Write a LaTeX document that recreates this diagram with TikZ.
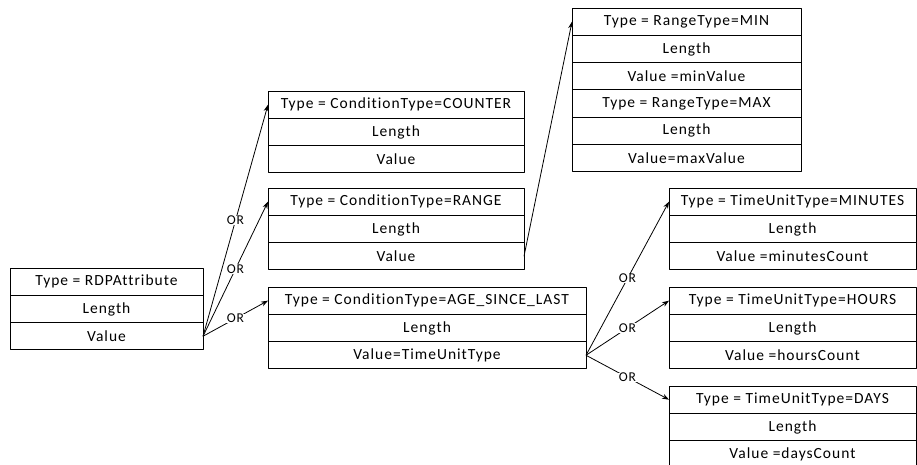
\documentclass[tikz,border=0pt]{standalone}
\usepackage{fontspec}
\setmainfont{Carlito}[LetterSpace=6.5,Ligatures=NoCommon]
\usetikzlibrary{positioning,arrows.meta}
\tikzset{
  field/.style={draw,line width=0.9pt,minimum height=27.3pt,inner sep=0pt,outer sep=0pt,anchor=north west},
  orlabel/.style={fill=white,inner sep=0.5pt,font=\fontsize{13.5}{14}\selectfont},
}
% three stacked fields: name, corner, width, type, length, value
\newcommand{\attrbox}[6]{%
  \node[field,minimum width=#3] (#1T) at (#2) {#4};
  \node[field,minimum width=#3,below=0pt of #1T] (#1L) {#5};
  \node[field,minimum width=#3,below=0pt of #1L] (#1V) {#6};}
\begin{document}
\begin{tikzpicture}[>={Stealth[length=7pt,width=5pt]},line join=round,line width=0.8pt,x=1pt,y=-1pt,font=\fontsize{15.5}{16}\selectfont]
	\useasboundingbox (0,0) rectangle (917,464);
	\attrbox{rdp}{10,268}{193pt}{Type = RDPAttribute}{Length}{Value}
	\attrbox{cnt}{268,91}{256pt}{Type = ConditionType=COUNTER}{Length}{Value}
	\attrbox{rng}{268,188}{256pt}{Type = ConditionType=RANGE}{Length}{Value}
	\attrbox{age}{268,287}{318pt}{Type = ConditionType=AGE\_SINCE\_LAST}{Length}{Value=TimeUnitType}
	\attrbox{min}{572,8}{229pt}{Type = RangeType=MIN}{Length}{Value =minValue}
	\attrbox{max}{minV.south west}{229pt}{Type = RangeType=MAX}{Length}{Value=maxValue}
	\attrbox{mnt}{669,188}{247pt}{Type = TimeUnitType=MINUTES}{Length}{Value =minutesCount}
	\attrbox{hrs}{669,287}{247pt}{Type = TimeUnitType=HOURS}{Length}{Value =hoursCount}
	\attrbox{dys}{669,386}{247pt}{Type = TimeUnitType=DAYS}{Length}{Value =daysCount}
	% OR branches
	\draw[->] (rdpV.east) -- node[orlabel]{OR} (cntT.west);
	\draw[->] (rdpV.east) -- node[orlabel]{OR} (rngT.west);
	\draw[->] (rdpV.east) -- node[orlabel]{OR} (ageT.west);
	\draw[->] (rngV.east) -- (minT.west);
	\draw[->] (ageV.east) -- node[orlabel]{OR} (mntT.west);
	\draw[->] (ageV.east) -- node[orlabel]{OR} (hrsT.west);
	\draw[->] (ageV.east) -- node[orlabel]{OR} (dysT.west);
\end{tikzpicture}
\end{document}
